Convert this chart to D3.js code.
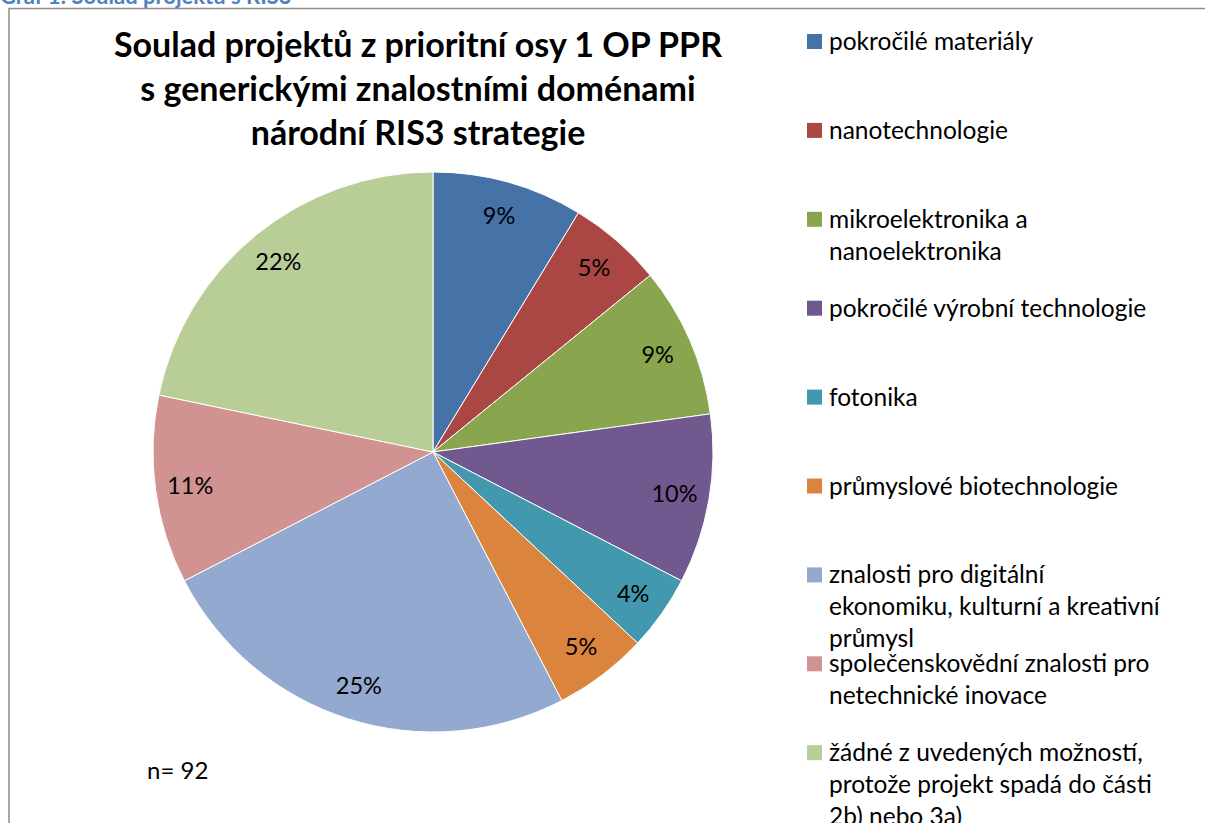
<!DOCTYPE html>
<html>
<head>
<meta charset="utf-8">
<script src="https://cdn.jsdelivr.net/npm/d3@7"></script>
<style>
  body { margin: 0; background: #fff; }
  svg { display: block; font-family: Lato, "Open Sans", sans-serif; }
</style>
</head>
<body>
<div id="chart"></div>
<script>
const categories = [
  'pokročilé materiály',
  'nanotechnologie',
  'mikroelektronika a nanoelektronika',
  'pokročilé výrobní technologie',
  'fotonika',
  'průmyslové biotechnologie',
  'znalosti pro digitální ekonomiku, kulturní a kreativní průmysl',
  'společenskovědní znalosti pro netechnické inovace',
  'žádné z uvedených možností, protože projekt spadá do části 2b) nebo 3a)',
];
// project counts (n = 92)
const counts = [8, 5, 8, 9, 4, 5, 23, 10, 20];
const legendLines = [
  ['pokročilé materiály'],
  ['nanotechnologie'],
  ['mikroelektronika a', 'nanoelektronika'],
  ['pokročilé výrobní technologie'],
  ['fotonika'],
  ['průmyslové biotechnologie'],
  ['znalosti pro digitální', 'ekonomiku, kulturní a kreativní', 'průmysl'],
  ['společenskovědní znalosti pro', 'netechnické inovace'],
  ['žádné z uvedených možností,', 'protože projekt spadá do části', '2b) nebo 3a)'],
];
const colors = ['#4572A7', '#AA4643', '#89A54E', '#71588F', '#4198AF',
  '#DB843D', '#93A9CF', '#D19392', '#B9CD96'];
const titleLines = [
  'Soulad projektů z prioritní osy 1 OP PPR',
  's generickými znalostními doménami',
  'národní RIS3 strategie',
];
const total = 92;

const width = 1205;
const height = 823;
const cx = 433;
const cy = 452;
const radius = 280;

const svg = d3.select('#chart')
  .append('svg')
  .attr('width', width)
  .attr('height', height);

// caption above the chart frame, cut off by the page edge
svg.append('text')
  .attr('x', 0)
  .attr('y', 4)
  .attr('fill', '#4F81BD')
  .attr('font-weight', 'bold')
  .attr('font-size', 22)
  .text('Graf 1: Soulad projektů s RIS3');

// chart frame (only top and left are visible)
svg.append('path')
  .attr('d', `M9,${height} V8.5 H${width}`)
  .attr('fill', 'none')
  .attr('stroke', '#8c8c8c')
  .attr('stroke-width', 1.5);

// title
const title = svg.append('text')
  .attr('text-anchor', 'middle')
  .attr('font-weight', 'bold')
  .attr('font-size', 34)
  .attr('fill', '#000');

title.selectAll('tspan')
  .data(titleLines)
  .join('tspan')
  .attr('x', 418)
  .attr('y', (d, i) => 57 + i * 44)
  .text(d => d);

// pie
const color = d3.scaleOrdinal().domain(categories).range(colors);
const pie = d3.pie().sort(null).value(d => d.value);
const data = categories.map((c, i) => ({ category: c, value: counts[i] }));
const arcs = pie(data);

const arc = d3.arc().innerRadius(0).outerRadius(radius);
const labelArc = d3.arc().innerRadius(245).outerRadius(245);

const g = svg.append('g')
  .attr('transform', `translate(${cx}, ${cy})`);

g.selectAll('path')
  .data(arcs)
  .join('path')
  .attr('d', arc)
  .attr('fill', d => color(d.data.category))
  .attr('stroke', '#fff')
  .attr('stroke-width', 1);

g.selectAll('text')
  .data(arcs)
  .join('text')
  .attr('transform', d => `translate(${labelArc.centroid(d)})`)
  .attr('text-anchor', 'middle')
  .attr('dy', '0.35em')
  .attr('font-size', 23.5)
  .attr('fill', '#000')
  .text(d => `${Math.round(d.data.value / total * 100)}%`);

// n
svg.append('text')
  .attr('x', 147)
  .attr('y', 779)
  .attr('font-size', 24)
  .attr('fill', '#000')
  .text(`n= ${total}`);

// legend
const legend = svg.append('g')
  .attr('transform', 'translate(807, 42)');

const item = legend.selectAll('g')
  .data(categories)
  .join('g')
  .attr('transform', (d, i) => `translate(0, ${i * 88.9})`);

item.append('rect')
  .attr('x', 0)
  .attr('y', -8)
  .attr('width', 15)
  .attr('height', 15)
  .attr('fill', d => color(d));

item.append('text')
  .attr('font-size', 24.5)
  .attr('fill', '#000')
  .selectAll('tspan')
  .data((d, i) => legendLines[i])
  .join('tspan')
  .attr('x', 22)
  .attr('y', (d, i) => 8 + i * 32)
  .text(d => d);
</script>
</body>
</html>
